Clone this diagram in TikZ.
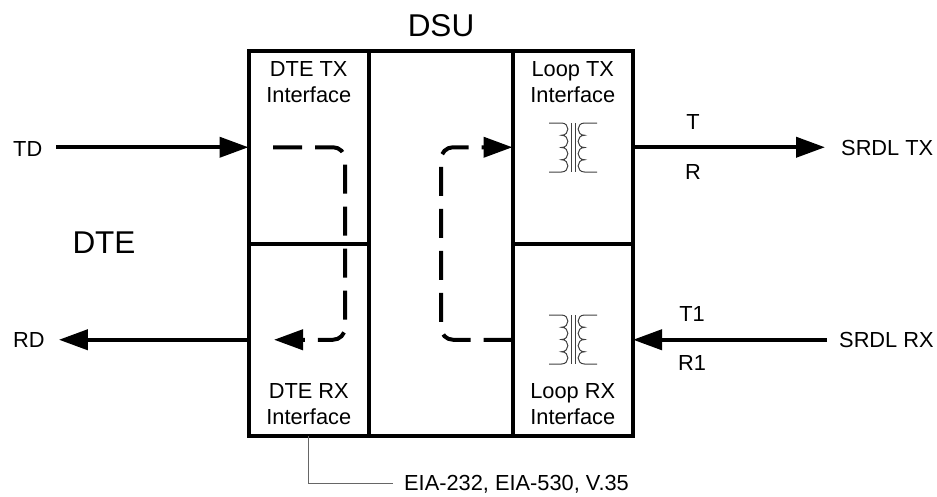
\documentclass[tikz,border=0pt]{standalone}
\usepackage{fontspec}
\setmainfont{Liberation Sans}
\usetikzlibrary{arrows.meta, positioning}
\tikzset{
    ifbox/.style={draw, line width=4pt, rectangle, inner sep=0pt, outer sep=0pt, minimum width=120.5pt, minimum height=192.5pt},
    boxlabel/.style={align=center, inner sep=0pt, font=\fontsize{21.8}{26}\selectfont},
    siglabel/.style={inner sep=0pt, text height=15.5pt, text depth=0pt, font=\fontsize{21.8}{25}\selectfont},
    biglabel/.style={inner sep=0pt, font=\fontsize{31.5}{36}\selectfont},
    sigarrow/.style={line width=4pt, -{Triangle[length=29pt, width=20pt]}},
    looppath/.style={line width=4pt, rounded corners=12pt, dash pattern=on 29pt off 13pt, -{Triangle[length=29pt, width=20pt]}},
    coilline/.style={line width=1pt, draw=black!75},
    xfmr/.pic={
        \draw[coilline] (-2,-24.5) -- (-2,24.5) (2,-24.5) -- (2,24.5);
        \draw[coilline] (-24,-24.5) -- (-11.5,-24.5)
            \foreach \ypos in {-24.5,-12.25,0,12.25} {
                .. controls (-3,\ypos) and (-3,\ypos+12.25) .. (-11.5,\ypos+12.25)
            } -- (-24,24.5);
        \draw[coilline] (24,-24.5) -- (11.5,-24.5)
            \foreach \ypos in {-24.5,-12.25,0,12.25} {
                .. controls (3,\ypos) and (3,\ypos+12.25) .. (11.5,\ypos+12.25)
            } -- (24,24.5);
    }
}

\begin{document}
\begin{tikzpicture}[x=1pt, y=-1pt]
    \useasboundingbox (0,0) rectangle (937,496);

    \node[ifbox] (dtetx) at (308.75,147.25) {};
    \node[ifbox, below=0pt of dtetx] (dterx) {};
    \node[ifbox, right=143.5pt of dtetx] (looptx) {};
    \node[ifbox, below=0pt of looptx] (looprx) {};
    \draw[line width=4pt] (dtetx.north east) -- (looptx.north west);
    \draw[line width=4pt] (dterx.south east) -- (looprx.south west);

    \node[biglabel] (dsu) at (441,26) {DSU};
    \node[biglabel] (dte) at (104,242.5) {DTE};

    \node[boxlabel, below=10pt of dtetx.north] (dtetxlabel) {DTE TX\\Interface};
    \node[boxlabel, below=10pt of looptx.north] (looptxlabel) {Loop TX\\Interface};
    \node[boxlabel, above=11pt of dterx.south] (dterxlabel) {DTE RX\\Interface};
    \node[boxlabel, above=11pt of looprx.south] (looprxlabel) {Loop RX\\Interface};

    \pic at (573,147.5) {xfmr};
    \pic at (573,339.5) {xfmr};

    \node[siglabel, anchor=west] (td) at (13,149) {TD};
    \node[siglabel, anchor=west] (rd) at (13,339.75) {RD};
    \node[siglabel, anchor=west] (srdltx) at (841,147.25) {SRDL TX};
    \node[siglabel, anchor=west] (srdlrx) at (839,339.75) {SRDL RX};

    \draw[sigarrow, shorten <=14pt] (td.east |- dtetx.west) -- (dtetx.west);
    \draw[sigarrow, shorten >=14pt] (dterx.west) -- (rd.east);
    \draw[sigarrow, shorten >=16pt] (looptx.east) -- (srdltx.west);
    \draw[sigarrow, shorten <=12pt] (srdlrx.west) -- (looprx.east);

    \node[siglabel] (tlabel) at (693,122) {T};
    \node[siglabel] (rlabel) at (693,172) {R};
    \node[siglabel] (tonelabel) at (692,314) {T1};
    \node[siglabel] (ronelabel) at (692,363) {R1};

    % loopback paths
    \coordinate (txstart) at (273,147.25);
    \coordinate (rxend) at (274,339.75);
    \coordinate (dteturn) at (345,243.5);
    \coordinate (loopturn) at (441,243.5);
    \draw[looppath] (txstart) -| (dteturn) |- (rxend);
    \draw[looppath] (looprx.west) -| (loopturn) |- (looptx.west);

    \node[siglabel, anchor=west] (eia) at (404,483) {EIA-232, EIA-530, V.35};
    \draw[line width=1pt, draw=black!60, shorten >=11pt] (dterx.south) |- (eia.west);
\end{tikzpicture}
\end{document}
